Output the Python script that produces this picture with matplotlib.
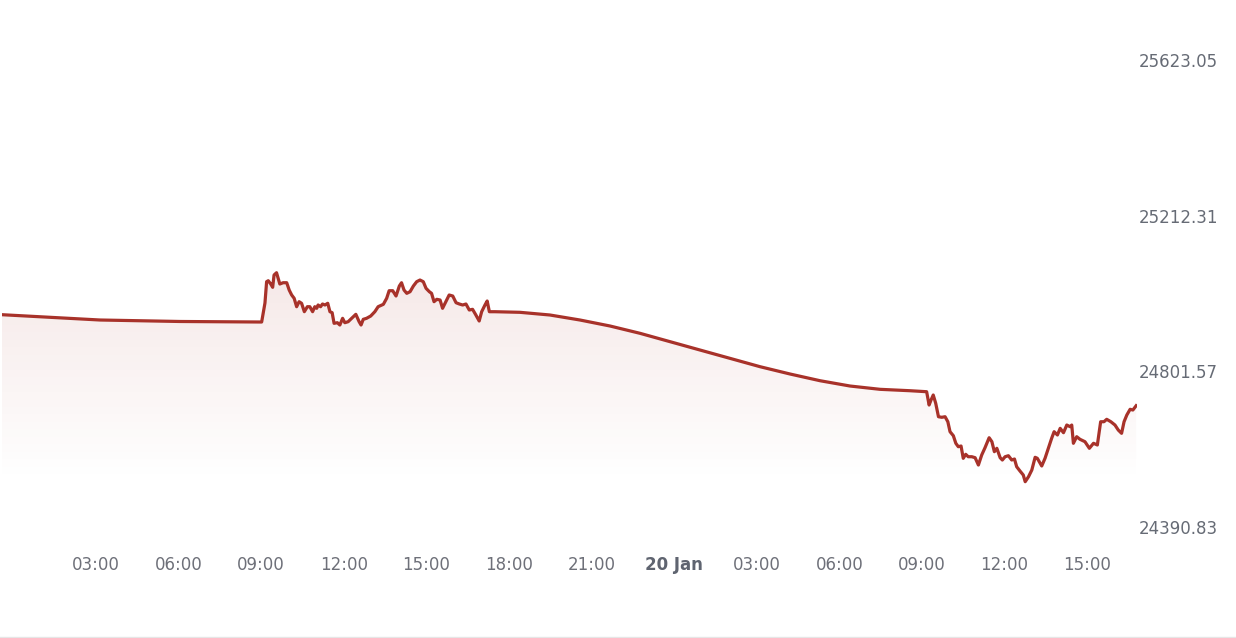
import matplotlib
matplotlib.use("Agg")
import matplotlib.pyplot as plt
import numpy as np

# hours since 19 Jan 00:00, index level
hours = [
    -0.41, 3.15, 6.05, 9.02,
    9.14, 9.20, 9.26, 9.35, 9.42, 9.47, 9.56, 9.62, 9.68, 9.80, 9.93, 10.02,
    10.11, 10.20, 10.29, 10.38, 10.47, 10.57, 10.68, 10.77, 10.87, 10.95,
    11.02, 11.07, 11.16, 11.23, 11.32, 11.42, 11.50, 11.58, 11.65, 11.77,
    11.86, 11.96, 12.04, 12.16, 12.29, 12.44, 12.56, 12.63, 12.71, 12.83,
    12.98, 13.13, 13.25, 13.44, 13.56, 13.65, 13.78, 13.90, 14.02, 14.10,
    14.19, 14.29, 14.41, 14.53, 14.65, 14.77, 14.89, 14.99, 15.11, 15.19,
    15.28, 15.38, 15.50, 15.59, 15.71, 15.83, 15.96, 16.08, 16.20, 16.32,
    16.44, 16.56, 16.68, 16.80, 16.92, 17.01, 17.13, 17.21, 17.29, 17.49,
    18.40, 19.49, 20.58, 21.67, 22.76, 23.85, 24.94, 26.03, 27.12, 28.21,
    29.30, 30.39, 31.48, 32.57, 33.17,
    33.26, 33.33, 33.41, 33.50, 33.60, 33.72, 33.84, 33.94, 34.02, 34.14,
    34.23, 34.32, 34.42, 34.50, 34.59, 34.68, 34.81, 34.93, 35.05, 35.17,
    35.29, 35.44, 35.54, 35.63, 35.72, 35.84, 35.92, 36.02, 36.14, 36.26,
    36.36, 36.44, 36.56, 36.68, 36.75, 36.87, 36.99, 37.11, 37.19, 37.35,
    37.47, 37.59, 37.71, 37.80, 37.92, 38.02, 38.14, 38.26, 38.38, 38.44,
    38.50, 38.62, 38.74, 38.92, 39.08, 39.23, 39.37, 39.49, 39.61, 39.71,
    39.86, 40.01, 40.13, 40.25, 40.34, 40.44, 40.56, 40.66, 40.78,
]
values = [
    24951.0, 24937.0, 24933.1, 24931.7,
    24981.9, 25038.1, 25040.7, 25032.0, 25023.3, 25055.7, 25061.8, 25047.0, 25032.0, 25035.4, 25035.4, 25016.1,
    25003.0, 24994.3, 24972.1, 24985.3, 24981.1, 24958.9, 24972.1, 24972.1, 24958.9, 24972.1,
    24967.9, 24976.6, 24972.1, 24979.2, 24976.6, 24981.1, 24958.9, 24956.3, 24928.3, 24929.9,
    24923.8, 24941.5, 24929.9, 24932.5, 24941.5, 24952.0, 24932.5, 24923.8, 24938.8, 24941.5,
    24947.5, 24958.9, 24972.1, 24978.4, 24994.3, 25014.3, 25014.3, 25000.3, 25026.7, 25035.4,
    25016.1, 25007.4, 25011.7, 25026.7, 25038.1, 25042.5, 25038.1, 25020.6, 25011.7, 25007.4,
    24985.3, 24991.6, 24989.8, 24967.9, 24985.3, 25003.0, 25000.3, 24982.6, 24979.2, 24976.6,
    24979.2, 24963.4, 24965.2, 24950.2, 24934.4, 24958.9, 24976.6, 24987.1, 24958.9, 24958.9,
    24957.3, 24950.2, 24937.0, 24921.2, 24901.9, 24879.7, 24857.8, 24835.9, 24813.8, 24794.5,
    24776.8, 24762.8, 24754.1, 24750.4, 24747.8,
    24712.7, 24725.9, 24739.1, 24717.2, 24681.8, 24680.3, 24681.8, 24668.6, 24642.3, 24631.7,
    24611.7, 24602.7, 24604.5, 24572.1, 24582.6, 24576.3, 24576.3, 24573.7, 24554.4, 24580.8,
    24600.0, 24626.4, 24615.9, 24589.5, 24598.5, 24573.7, 24567.6, 24576.3, 24578.9, 24567.6,
    24570.2, 24549.9, 24538.6, 24528.0, 24510.3, 24523.5, 24541.2, 24574.7, 24572.1, 24551.8,
    24572.1, 24598.5, 24624.8, 24642.3, 24633.6, 24651.2, 24639.6, 24659.9, 24655.5, 24659.9,
    24611.7, 24629.1, 24622.2, 24615.9, 24598.5, 24611.7, 24607.2, 24668.6, 24668.6, 24675.0,
    24668.6, 24659.9, 24646.7, 24638.0, 24668.6, 24686.3, 24701.4, 24699.5, 24710.9,
]

y_ticks = [24390.83, 24801.57, 25212.31, 25623.05]
x_ticks = [3, 6, 9, 12, 15, 18, 21, 24, 27, 30, 33, 36, 39]
x_labels = ["03:00", "06:00", "09:00", "12:00", "15:00", "18:00", "21:00",
            "20 Jan", "03:00", "06:00", "09:00", "12:00", "15:00"]

W, H = 1236, 638
fig = plt.figure(figsize=(W / 100, H / 100), dpi=100)
plt.rcParams['font.family'] = ['DejaVu Sans']

# axes box in pixels
left_px, right_px, top_px, bot_px = 2, 1137, 40, 545
ax = fig.add_axes([left_px / W, 1 - bot_px / H,
                   (right_px - left_px) / W, (bot_px - top_px) / H])

# y scale: 24390.83 sits at 527px, 25623.05 at 60px
per_px = (y_ticks[-1] - y_ticks[0]) / (527 - 60)
ymin = y_ticks[0] - (bot_px - 527) * per_px
ymax = y_ticks[0] + (527 - top_px) * per_px
ax.set_ylim(ymin, ymax)
ax.set_xlim(-0.41, 40.81)

t = np.array(hours)
v = np.array(values)
line_col = "#a8322a"

# gradient fill under the line
base = y_ticks[0] + (527 - 482) * per_px
poly = ax.fill_between(t, v, base, color="none", lw=0)
path = poly.get_paths()[0]
n = 256
rgba = np.zeros((n, 1, 4))
rgba[:, 0, 0] = 168 / 255
rgba[:, 0, 1] = 50 / 255
rgba[:, 0, 2] = 42 / 255
rgba[:, 0, 3] = np.linspace(0.11, 0.0, n)
img = ax.imshow(rgba, extent=[t[0], t[-1], base, v.max()], aspect="auto",
                origin="upper", zorder=1)
img.set_clip_path(path, transform=ax.transData)

ax.plot(t, v, color=line_col, lw=2.3, zorder=3, solid_joinstyle="round")

for s in ax.spines.values():
    s.set_visible(False)

ax.yaxis.tick_right()
ax.set_yticks(y_ticks)
ax.set_yticklabels([f"{y:.2f}" for y in y_ticks])
ax.tick_params(axis="y", length=0, pad=1, labelsize=12, labelcolor="#666b75")

ax.set_xticks(x_ticks)
ax.set_xticklabels(x_labels)
ax.tick_params(axis="x", length=0, pad=8, labelsize=12, labelcolor="#6e7079")
for lab in ax.get_xticklabels():
    if lab.get_text() == "20 Jan":
        lab.set_fontweight("bold")
        lab.set_color("#5f6470")

# bottom border line
fig.add_artist(plt.Line2D([0, 1], [1 - 636.5 / H] * 2, color="#e6e6e6", lw=1))

fig.savefig("out.png", dpi=100)
